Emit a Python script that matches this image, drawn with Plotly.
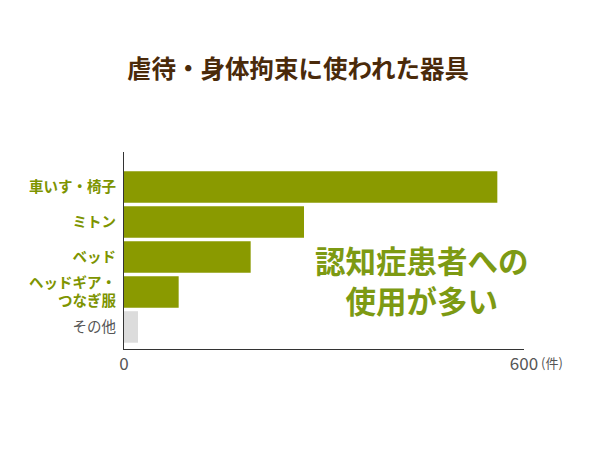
import plotly.graph_objects as go

categories = ["車いす・椅子", "ミトン", "ベッド", "ヘッドギア・<br>つなぎ服", "その他"]
counts = [560, 270, 190, 82, 21]
bar_colors = ["#8a9a00", "#8a9a00", "#8a9a00", "#8a9a00", "#dcdcdc"]
tick_labels = ["<b>車いす・椅子</b>", "<b>ミトン</b>", "<b>ベッド</b>",
               "<b>ヘッドギア・<br>つなぎ服</b>",
               "<span style='color:#555555'>その他</span>"]
x_ticks = [0, 600]

font = "Noto Sans CJK JP"

fig = go.Figure()
fig.add_trace(go.Bar(
    x=counts, y=categories, orientation="h",
    marker=dict(color=bar_colors, line=dict(width=0)),
    width=0.9, hoverinfo="x+y",
))

# the page body has an 8px margin, so positions are shifted back by 8px
fig.update_layout(
    width=600, height=450,
    margin=dict(l=116, r=84, t=144, b=109),
    paper_bgcolor="white", plot_bgcolor="white",
    showlegend=False,
    font=dict(family=font),
    title=dict(text="<b>虐待・身体拘束に使われた器具</b>", x=(298 - 8) / 600, xanchor="center",
               y=1 - 61 / 450, yanchor="middle",
               font=dict(family=font, size=24.5, color="#4a2a0a")),
)

fig.update_yaxes(
    type="category", categoryorder="array", categoryarray=categories,
    range=[4.63, -1.0],
    tickmode="array", tickvals=categories, ticktext=tick_labels,
    tickfont=dict(family=font, size=14.5, color="#7d9400"),
    showline=True, linecolor="#333333", linewidth=1,
    showgrid=False, ticks="", ticklabelstandoff=4,
)
fig.update_xaxes(
    range=[0, 600], tickvals=x_ticks, ticktext=[str(v) for v in x_ticks],
    tickfont=dict(family=font, size=17, color="#555555"),
    showline=True, linecolor="#333333", linewidth=1,
    showgrid=False, zeroline=False, ticks="", ticklabelstandoff=0,
)

fig.add_annotation(x=1, xref="paper", y=0, yref="paper", xshift=15, yshift=-2,
                   text="(件)", showarrow=False, xanchor="left", yanchor="top",
                   font=dict(family=font, size=13, color="#555555"))
fig.add_annotation(x=447, xref="x", y=0.5, yref="paper",
                   text="<b>認知症患者への<br>使用が多い</b>", showarrow=False,
                   xanchor="center", yanchor="middle", yshift=-29,
                   font=dict(family=font, size=30.5, color="#7d9a13"))

fig.write_html("out.html")
